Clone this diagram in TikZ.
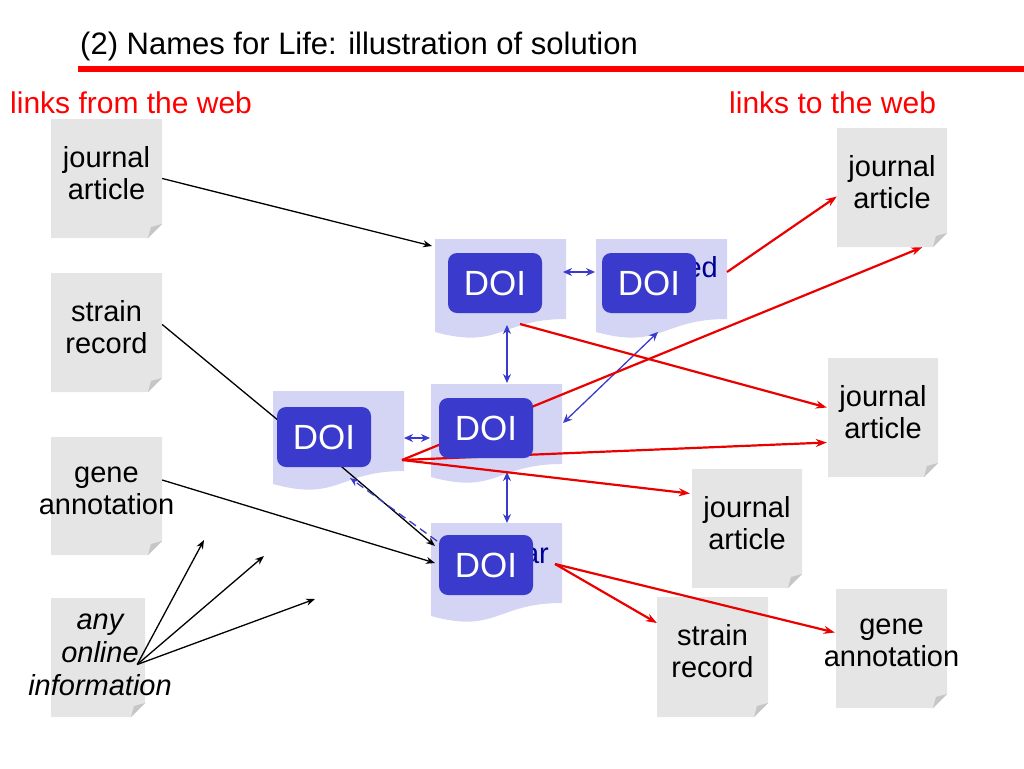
\documentclass[tikz,border=0pt]{standalone}
\usepackage{fontspec}
\setmainfont{Liberation Sans}
\usetikzlibrary{arrows.meta,fit,calc}
\definecolor{paper}{RGB}{229,229,229}
\definecolor{foldc}{RGB}{198,198,198}
\definecolor{lav}{RGB}{212,212,244}
\definecolor{doiblue}{RGB}{58,58,204}
\definecolor{navy}{RGB}{0,0,150}
\definecolor{linkred}{RGB}{235,0,0}
\newcommand{\paperbox}[6]{%
  \fill[paper] (#2,#3) -- (#4,#3) -- (#4,#5-14) -- (#4-14,#5) -- (#2,#5) -- cycle;
  \fill[foldc] (#4,#5-14) -- (#4-14,#5) -- (#4-11,#5-11) -- cycle;
  \node[fit={(#2,#3) (#4,#5)}, inner sep=0pt] (#1) {};
  \node[boxtext] (#1-t) at ($(#1.north)+(0,54)$) {#6};
}
\newcommand{\lavdoc}[3]{%
  \fill[lav] (#2,#3) -- (#2+131,#3) -- (#2+131,#3+80) .. controls (#2+65.5,#3+80) and (#2+65.5,#3+111) .. (#2,#3+93) -- cycle;
  \node[fit={(#2,#3) (#2+131,#3+96)}, inner sep=0pt] (#1) {};
}
\begin{document}
\begin{tikzpicture}[x=1pt,y=-1pt,
  boxtext/.style={font=\fontsize{29}{32}\selectfont, align=center, text=black, inner sep=0pt},
  doibox/.style={fill=doiblue, rounded corners=9pt, minimum width=94pt, minimum height=60pt, text=white, font=\fontsize{35}{40}\selectfont, inner sep=0pt},
  hidtext/.style={font=\fontsize{29}{32}\selectfont, text=navy, inner sep=0pt, anchor=base east},
  blkline/.style={black, line width=1.3pt},
  blk/.style={blkline, -{Stealth[length=9pt,width=7pt]}},
  bluedash/.style={doiblue, line width=1.3pt, dashed, dash pattern=on 8pt off 5pt, -{Stealth[length=9pt,width=7pt]}},
  redarr/.style={linkred, line width=2.2pt, -{Stealth[length=11pt,width=8pt]}},
  bluearr/.style={doiblue, line width=1.3pt, {Stealth[length=9pt,width=8pt]}-{Stealth[length=9pt,width=8pt]}}
]
\useasboundingbox (0,0) rectangle (1024,768);

% title and labels
\node[anchor=base west, inner sep=0pt, font=\fontsize{31}{36}\selectfont] (title) at (80,55) {(2) Names for Life: illustration of solution};
\fill[red] (78,66) rectangle (1024,72);
\node[anchor=base west, inner sep=0pt, text=red, font=\fontsize{30}{34}\selectfont] (lfrom) at (10,113) {links from the web};
\node[anchor=base west, inner sep=0pt, text=red, font=\fontsize{30}{34}\selectfont] (lto) at (729,113) {links to the web};

% paper boxes (left)
\paperbox{jl}{51}{119}{162}{238}{journal\\article}
\paperbox{sr}{51}{273}{162}{392}{strain\\record}
\paperbox{ga}{51}{437}{162}{555}{gene\\annotation}
\fill[paper] (51,598) -- (145,598) -- (145,703) -- (131,717) -- (51,717) -- cycle;
\fill[foldc] (145,703) -- (131,717) -- (134,706) -- cycle;
\node[fit={(51,598) (145,717)}, inner sep=0pt] (ao) {};
\node[boxtext, font=\fontsize{29}{33}\selectfont\itshape] (ao-t) at ($(ao.north)+(2,57)$) {any\\online\\information};

% paper boxes (right)
\paperbox{ja1}{837}{128}{947}{247}{journal\\article}
\paperbox{ja2}{828}{358}{938}{477}{journal\\article}
\paperbox{ja3}{692}{469}{802}{588}{journal\\article}
\paperbox{sr2}{657}{597}{768}{717}{strain\\record}
\paperbox{ga2}{836}{589}{947}{708}{gene\\annotation}

% DOI documents
\lavdoc{A}{435}{239}
\lavdoc{B}{596}{239}
\lavdoc{C}{273}{391}
\lavdoc{D}{431}{384}
\lavdoc{E}{431}{523}

\node[hidtext] (B-t) at (718,277) {ed};
\node[hidtext] (E-t) at (549,563) {ar};

% connector end points
\coordinate (A-in) at (432,246);
\coordinate (C-in) at (279,421);
\coordinate (E-in1) at (435,563);
\coordinate (E-in2) at (435,546);
\coordinate (E-in3) at (437,541);
\coordinate (C-back) at (350,478);
\coordinate (ao-out) at ($(ao.east)+(-8,7)$);
\coordinate (w1) at (204,540);
\coordinate (w2) at (264,556);
\coordinate (w3) at (315,599);
\coordinate (A-out) at (520,324);
\coordinate (B-out) at (727,272);
\coordinate (C-out) at (402,460);
\coordinate (E-out) at (555,564);

% black links from the web
\draw[blk] (jl.east) -- (A-in);
\draw[blkline] ($(sr.east)+(0,-8)$) -- (C-in);
\draw[blk] ($(ga.east)+(0,-16)$) -- (E-in1);
\draw[blk] ($(C.south)+(-1,-24)$) -- (E-in2);
\draw[bluedash] (E-in3) -- (C-back);
\draw[blk] (ao-out) -- (w1);
\draw[blk] (ao-out) -- (w2);
\draw[blk] (ao-out) -- (w3);

% blue links between DOIs
\coordinate (ab1) at (563,272);
\coordinate (ab2) at (595,272);
\coordinate (cd1) at (404,438);
\coordinate (cd2) at (430,438);
\coordinate (ad1) at (507,325);
\coordinate (ad2) at (507,383);
\coordinate (de1) at (507,472);
\coordinate (de2) at (507,523);
\coordinate (db1) at (563,423);
\coordinate (db2) at (658,332);
\draw[bluearr] (ab1) -- (ab2);
\draw[bluearr] (cd1) -- (cd2);
\draw[bluearr] (ad1) -- (ad2);
\draw[bluearr] (de1) -- (de2);
\draw[bluearr] (db1) -- (db2);

% red links to the web
\draw[redarr] (B-out) -- ($(ja1.west)+(0,9)$);
\draw[redarr] (C-out) -- ($(ja1.south east)+(-25,0)$);
\draw[redarr] (A-out) -- ($(ja2.west)+(-1,-10)$);
\draw[redarr] (C-out) -- ($(ja2.west)+(-1,25)$);
\draw[redarr] (C-out) -- ($(ja3.west)+(-2,-35)$);
\draw[redarr] (E-out) -- ($(sr2.west)+(0,-34)$);
\draw[redarr] (E-out) -- ($(ga2.west)+(-1,-16)$);

% DOI boxes
\node[doibox] (A-doi) at (495,283) {DOI};
\node[doibox] (B-doi) at (649,283) {DOI};
\node[doibox] (C-doi) at (324,437) {DOI};
\node[doibox] (D-doi) at (486,428) {DOI};
\node[doibox] (E-doi) at (486,565) {DOI};
\end{tikzpicture}
\end{document}
